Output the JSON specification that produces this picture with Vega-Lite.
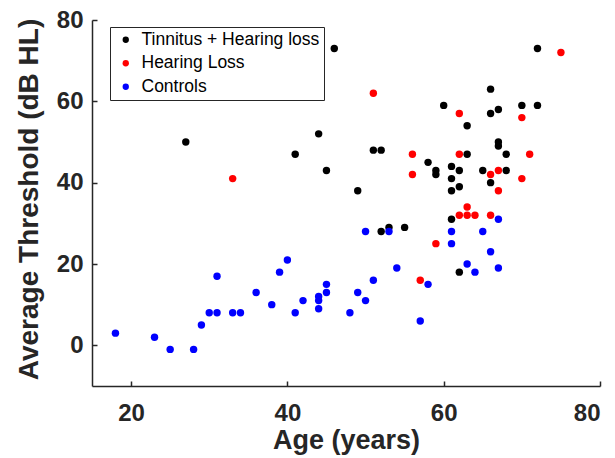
{
  "$schema": "https://vega.github.io/schema/vega-lite/v6.json",
  "width": 508,
  "height": 366,
  "autosize": {"type": "none"},
  "padding": {"left": 92, "top": 20, "right": 15, "bottom": 72},
  "background": "#ffffff",
  "config": {
    "view": {"stroke": null},
    "font": "Liberation Sans",
    "axis": {
      "grid": false,
      "labelFont": "Liberation Sans",
      "labelFontWeight": "bold",
      "labelFontSize": 24,
      "labelColor": "#262626",
      "titleFont": "Liberation Sans",
      "titleFontWeight": "bold",
      "titleFontSize": 27,
      "titleColor": "#262626",
      "domainColor": "#262626",
      "domainWidth": 1.5,
      "tickColor": "#262626",
      "tickWidth": 1.5,
      "tickSize": -5
    }
  },
  "data": {
    "values": [
      {"age": 27, "thr": 50, "group": "Tinnitus + Hearing loss"},
      {"age": 46, "thr": 73, "group": "Tinnitus + Hearing loss"},
      {"age": 44, "thr": 52, "group": "Tinnitus + Hearing loss"},
      {"age": 41, "thr": 47, "group": "Tinnitus + Hearing loss"},
      {"age": 45, "thr": 43, "group": "Tinnitus + Hearing loss"},
      {"age": 49, "thr": 38, "group": "Tinnitus + Hearing loss"},
      {"age": 72, "thr": 73, "group": "Tinnitus + Hearing loss"},
      {"age": 66, "thr": 63, "group": "Tinnitus + Hearing loss"},
      {"age": 60, "thr": 59, "group": "Tinnitus + Hearing loss"},
      {"age": 66, "thr": 57, "group": "Tinnitus + Hearing loss"},
      {"age": 67, "thr": 58, "group": "Tinnitus + Hearing loss"},
      {"age": 70, "thr": 59, "group": "Tinnitus + Hearing loss"},
      {"age": 72, "thr": 59, "group": "Tinnitus + Hearing loss"},
      {"age": 63, "thr": 54, "group": "Tinnitus + Hearing loss"},
      {"age": 51, "thr": 48, "group": "Tinnitus + Hearing loss"},
      {"age": 52, "thr": 48, "group": "Tinnitus + Hearing loss"},
      {"age": 67, "thr": 50, "group": "Tinnitus + Hearing loss"},
      {"age": 67, "thr": 49, "group": "Tinnitus + Hearing loss"},
      {"age": 63, "thr": 47, "group": "Tinnitus + Hearing loss"},
      {"age": 68, "thr": 47, "group": "Tinnitus + Hearing loss"},
      {"age": 58, "thr": 45, "group": "Tinnitus + Hearing loss"},
      {"age": 59, "thr": 43, "group": "Tinnitus + Hearing loss"},
      {"age": 59, "thr": 42, "group": "Tinnitus + Hearing loss"},
      {"age": 61, "thr": 44, "group": "Tinnitus + Hearing loss"},
      {"age": 62, "thr": 43, "group": "Tinnitus + Hearing loss"},
      {"age": 65, "thr": 43, "group": "Tinnitus + Hearing loss"},
      {"age": 68, "thr": 43, "group": "Tinnitus + Hearing loss"},
      {"age": 61, "thr": 41, "group": "Tinnitus + Hearing loss"},
      {"age": 66, "thr": 40, "group": "Tinnitus + Hearing loss"},
      {"age": 62, "thr": 39, "group": "Tinnitus + Hearing loss"},
      {"age": 61, "thr": 38, "group": "Tinnitus + Hearing loss"},
      {"age": 61, "thr": 31, "group": "Tinnitus + Hearing loss"},
      {"age": 52, "thr": 28, "group": "Tinnitus + Hearing loss"},
      {"age": 53, "thr": 29, "group": "Tinnitus + Hearing loss"},
      {"age": 55, "thr": 29, "group": "Tinnitus + Hearing loss"},
      {"age": 62, "thr": 18, "group": "Tinnitus + Hearing loss"},
      {"age": 33, "thr": 41, "group": "Hearing Loss"},
      {"age": 75, "thr": 72, "group": "Hearing Loss"},
      {"age": 51, "thr": 62, "group": "Hearing Loss"},
      {"age": 62, "thr": 57, "group": "Hearing Loss"},
      {"age": 70, "thr": 56, "group": "Hearing Loss"},
      {"age": 56, "thr": 47, "group": "Hearing Loss"},
      {"age": 62, "thr": 47, "group": "Hearing Loss"},
      {"age": 71, "thr": 47, "group": "Hearing Loss"},
      {"age": 66, "thr": 42, "group": "Hearing Loss"},
      {"age": 67, "thr": 43, "group": "Hearing Loss"},
      {"age": 56, "thr": 42, "group": "Hearing Loss"},
      {"age": 70, "thr": 41, "group": "Hearing Loss"},
      {"age": 67, "thr": 38, "group": "Hearing Loss"},
      {"age": 63, "thr": 34, "group": "Hearing Loss"},
      {"age": 62, "thr": 32, "group": "Hearing Loss"},
      {"age": 63, "thr": 32, "group": "Hearing Loss"},
      {"age": 64, "thr": 32, "group": "Hearing Loss"},
      {"age": 66, "thr": 32, "group": "Hearing Loss"},
      {"age": 59, "thr": 25, "group": "Hearing Loss"},
      {"age": 57, "thr": 16, "group": "Hearing Loss"},
      {"age": 18, "thr": 3, "group": "Controls"},
      {"age": 23, "thr": 2, "group": "Controls"},
      {"age": 25, "thr": -1, "group": "Controls"},
      {"age": 28, "thr": -1, "group": "Controls"},
      {"age": 29, "thr": 5, "group": "Controls"},
      {"age": 30, "thr": 8, "group": "Controls"},
      {"age": 31, "thr": 8, "group": "Controls"},
      {"age": 31, "thr": 17, "group": "Controls"},
      {"age": 33, "thr": 8, "group": "Controls"},
      {"age": 34, "thr": 8, "group": "Controls"},
      {"age": 36, "thr": 13, "group": "Controls"},
      {"age": 38, "thr": 10, "group": "Controls"},
      {"age": 39, "thr": 18, "group": "Controls"},
      {"age": 40, "thr": 21, "group": "Controls"},
      {"age": 41, "thr": 8, "group": "Controls"},
      {"age": 42, "thr": 11, "group": "Controls"},
      {"age": 44, "thr": 12, "group": "Controls"},
      {"age": 44, "thr": 11, "group": "Controls"},
      {"age": 44, "thr": 9, "group": "Controls"},
      {"age": 45, "thr": 15, "group": "Controls"},
      {"age": 45, "thr": 13, "group": "Controls"},
      {"age": 48, "thr": 8, "group": "Controls"},
      {"age": 49, "thr": 13, "group": "Controls"},
      {"age": 50, "thr": 11, "group": "Controls"},
      {"age": 50, "thr": 28, "group": "Controls"},
      {"age": 51, "thr": 16, "group": "Controls"},
      {"age": 53, "thr": 28, "group": "Controls"},
      {"age": 54, "thr": 19, "group": "Controls"},
      {"age": 57, "thr": 6, "group": "Controls"},
      {"age": 58, "thr": 15, "group": "Controls"},
      {"age": 61, "thr": 28, "group": "Controls"},
      {"age": 61, "thr": 25, "group": "Controls"},
      {"age": 63, "thr": 20, "group": "Controls"},
      {"age": 64, "thr": 18, "group": "Controls"},
      {"age": 65, "thr": 28, "group": "Controls"},
      {"age": 66, "thr": 23, "group": "Controls"},
      {"age": 67, "thr": 31, "group": "Controls"},
      {"age": 67, "thr": 19, "group": "Controls"}
    ]
  },
  "mark": {"type": "circle", "size": 55, "opacity": 1},
  "encoding": {
    "x": {
      "field": "age",
      "type": "quantitative",
      "scale": {"domain": [15, 80], "nice": false, "zero": false},
      "axis": {
        "title": "Age (years)",
        "values": [20, 40, 60, 80],
        "labelPadding": 20,
        "titleBaseline": "alphabetic",
        "titleY": 62
      }
    },
    "y": {
      "field": "thr",
      "type": "quantitative",
      "scale": {"domain": [-10, 80], "nice": false, "zero": false},
      "axis": {
        "title": "Average Threshold (dB HL)",
        "titleFontSize": 28,
        "values": [0, 20, 40, 60, 80],
        "labelPadding": 14,
        "titleBaseline": "alphabetic",
        "titleX": -55,
        "titleY": 179
      }
    },
    "color": {
      "field": "group",
      "type": "nominal",
      "scale": {
        "domain": ["Tinnitus + Hearing loss", "Hearing Loss", "Controls"],
        "range": ["#000000", "#ff0000", "#0000ff"]
      },
      "legend": {
        "title": null,
        "orient": "none",
        "legendX": 18,
        "legendY": 7,
        "strokeColor": "#262626",
        "fillColor": "#ffffff",
        "padding": 4,
        "labelFont": "Liberation Sans",
        "labelFontSize": 17.5,
        "labelColor": "#000000",
        "labelLimit": 400,
        "symbolType": "circle",
        "symbolSize": 40,
        "symbolStrokeWidth": 0,
        "symbolOffset": 3,
        "labelOffset": 7,
        "rowPadding": 4.5
      }
    }
  }
}
